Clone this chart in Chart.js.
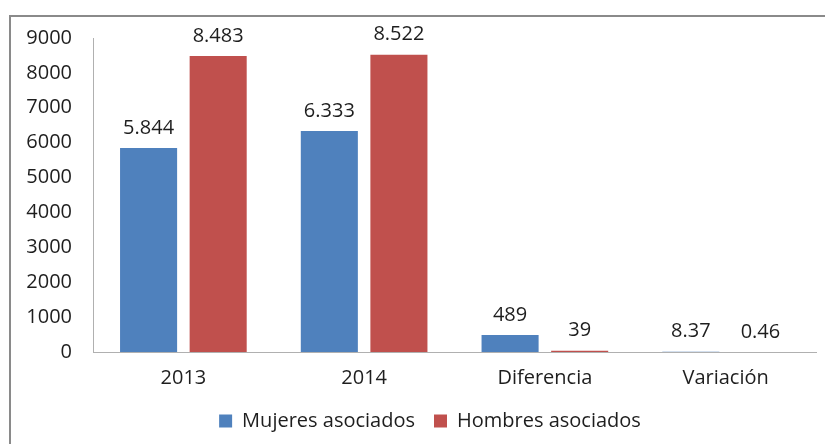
<!DOCTYPE html>
<html lang="es">

<head>
    <meta charset="UTF-8">
    <title>Asociados 2013 - 2014</title>
    <script src="https://cdn.jsdelivr.net/npm/chart.js"></script>
    <style>
        body {
            margin: 0;
            background: white;
            overflow: hidden;
        }

        .frame {
            position: absolute;
            left: 9px;
            top: 15px;
            width: 845px;
            height: 440px;
            border: 2px solid #8a8a8a;
        }
    </style>
</head>

<body>
    <div class="frame">
        <canvas id="asociadosChart" width="845" height="440"></canvas>
    </div>

    <script>
        const categories = ["2013", "2014", "Diferencia", "Variación"];
        const mujeres = [5844, 6333, 489, 8.37];
        const hombres = [8483, 8522, 39, 0.46];
        const yTicks = [0, 1000, 2000, 3000, 4000, 5000, 6000, 7000, 8000, 9000];

        const fontFamily = "'Open Sans', sans-serif";
        const textColor = '#1e1e1e';

        // numbers like the original: 5.844 for thousands, 8.37 for decimals
        function formatValue(v) {
            if (Number.isInteger(v)) return v.toLocaleString('de-DE');
            return v.toFixed(2);
        }

        // draw the value above each bar
        const valueLabels = {
            id: 'valueLabels',
            afterDatasetsDraw(chart) {
                const ctx = chart.ctx;
                ctx.save();
                ctx.font = '20px ' + fontFamily;
                ctx.fillStyle = textColor;
                ctx.textAlign = 'center';
                ctx.textBaseline = 'middle';
                chart.data.datasets.forEach((ds, i) => {
                    chart.getDatasetMeta(i).data.forEach((bar, j) => {
                        ctx.fillText(formatValue(ds.data[j]), bar.x, bar.y - 20);
                    });
                });
                ctx.restore();
            }
        };

        const ctx = document.getElementById('asociadosChart').getContext('2d');
        const chart = new Chart(ctx, {
            type: 'bar',
            data: {
                labels: categories,
                datasets: [{
                    label: 'Mujeres asociados',
                    data: mujeres,
                    backgroundColor: '#4F81BD'
                }, {
                    label: 'Hombres asociados',
                    data: hombres,
                    backgroundColor: '#C0504D'
                }]
            },
            options: {
                responsive: false,
                animation: false,
                categoryPercentage: 0.77,
                barPercentage: 0.82,
                layout: {
                    padding: { left: 14, right: 21, top: 21, bottom: 16 }
                },
                plugins: {
                    legend: {
                        position: 'bottom',
                        labels: {
                            boxWidth: 13,
                            boxHeight: 13,
                            padding: 19,
                            color: textColor,
                            font: { family: fontFamily, size: 20 }
                        }
                    },
                    tooltip: { enabled: false }
                },
                scales: {
                    x: {
                        grid: { display: false, drawTicks: false },
                        border: { display: true, color: '#b0b0b0', width: 1 },
                        ticks: {
                            padding: 14,
                            color: textColor,
                            font: { family: fontFamily, size: 20 }
                        },
                        afterFit(axis) { axis.height = 40; }
                    },
                    y: {
                        min: 0,
                        max: 9000,
                        grid: { display: false, drawTicks: false },
                        border: { display: true, color: '#b0b0b0', width: 1 },
                        afterBuildTicks(axis) {
                            axis.ticks = yTicks.map(v => ({ value: v }));
                        },
                        ticks: {
                            padding: 21,
                            color: textColor,
                            font: { family: fontFamily, size: 20 },
                            callback: v => String(v)
                        },
                        afterFit(axis) {
                            axis.width = 68;
                            axis.paddingTop = 0;
                            axis.paddingBottom = 0;
                        }
                    },
                    // empty spacer on the right so the legend sits where it does in the original
                    spacer: {
                        type: 'linear',
                        position: 'right',
                        grid: { display: false, drawTicks: false },
                        border: { display: false },
                        ticks: { display: false },
                        afterFit(axis) { axis.width = 19; }
                    }
                }
            },
            plugins: [valueLabels]
        });
    </script>
</body>

</html>
